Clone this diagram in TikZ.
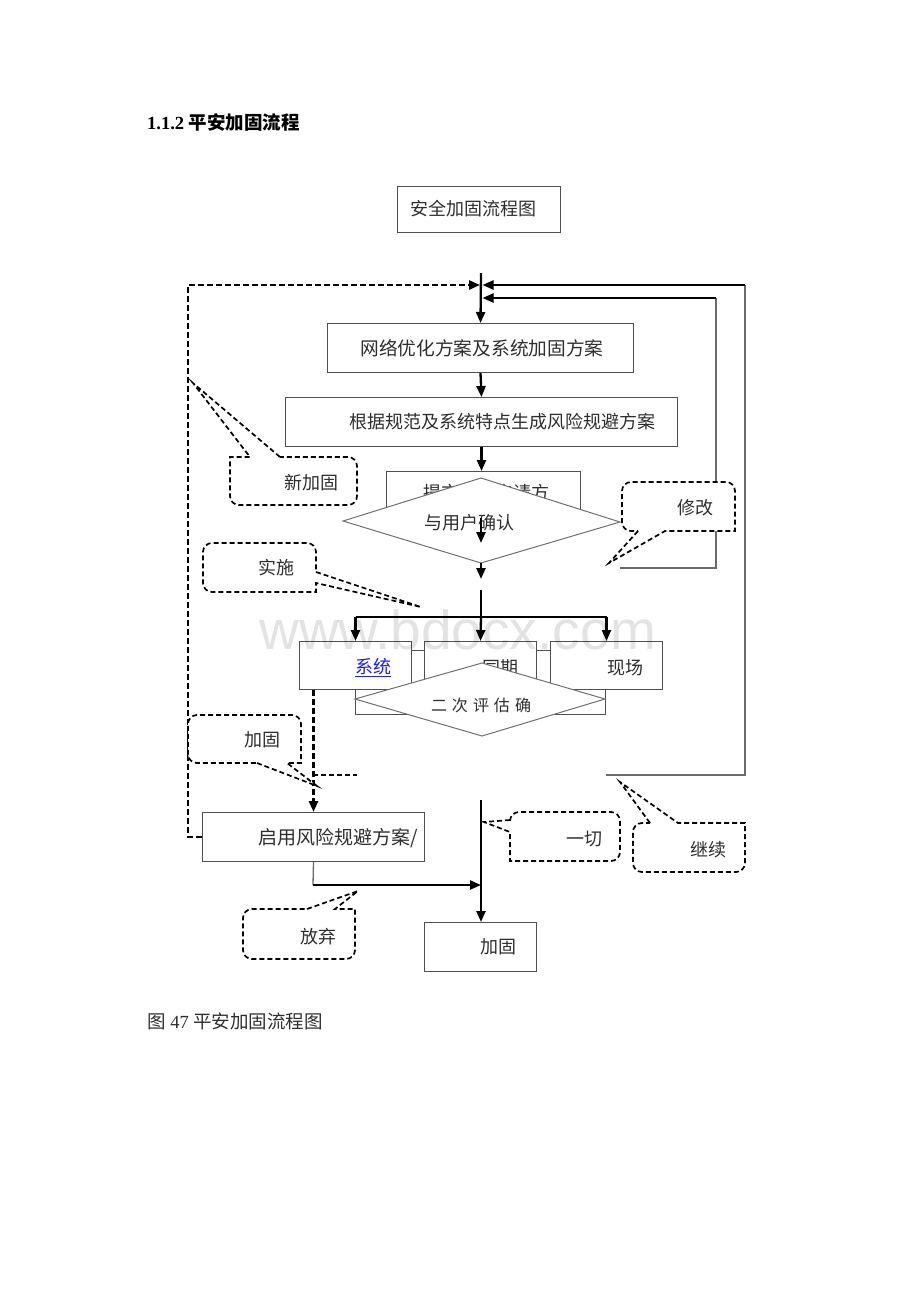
\documentclass[tikz,border=0pt]{standalone}
\usepackage{fontspec}
\setmainfont{Liberation Serif}
\newfontfamily\cjk{Noto Sans CJK SC}
\newfontfamily\wmfont{Liberation Sans}
\usetikzlibrary{arrows.meta}
\definecolor{boxc}{HTML}{505050}
\definecolor{dmc}{HTML}{707070}
\definecolor{loopc}{HTML}{6A6A6A}
\definecolor{txtc}{HTML}{2E2E2E}
\definecolor{linkc}{HTML}{1A1AFF}
\begin{document}
\begin{tikzpicture}[x=1pt,y=-1pt,
  bx/.style={draw=boxc, line width=1pt, fill=white, inner sep=0pt, anchor=north west},
  t/.style={font=\cjk\fontsize{18}{20}\selectfont, text=txtc, inner sep=0pt},
  arr/.style={draw=black, line width=2.3pt, -{Triangle[length=11pt,width=9pt]}},
  thk/.style={draw=black, line width=2.3pt},
  gl/.style={draw=loopc, line width=1.3pt},
  dm/.style={draw=dmc, line width=1pt, fill=white},
  cdash/.style={draw=black, fill=white, line width=1.7pt, dash pattern=on 5pt off 3pt},
  bigdash/.style={draw=black, line width=2.5pt, dash pattern=on 6pt off 3pt}]
\useasboundingbox (0,0) rectangle (920,1302);

% heading and caption
\node[anchor=west, inner sep=0pt, text=black] (head) at (147,122)
  {\fontsize{18.5}{20}\selectfont\bfseries 1.1.2 {\cjk\bfseries 平安加固流程}};
\node[anchor=west, inner sep=0pt, text=txtc] (cap) at (147,1021)
  {\fontsize{18.5}{20}\selectfont{\cjk 图} 47 {\cjk 平安加固流程图}};

% title
\node[bx, minimum width=163, minimum height=46] (title) at (397,186) {};
\node[t] (titlet) at (473,209) {安全加固流程图};

% background rectangle behind second diamond
\coordinate (bg1) at (355,650);
\coordinate (bg2) at (605,714);
\draw[draw=boxc, line width=1pt] (bg1) rectangle (bg2);

% main boxes
\node[bx, minimum width=306, minimum height=49] (b1) at (327,323) {};
\node[t, font=\cjk\fontsize{18.7}{21}\selectfont] (b1t) at (482,348) {网络优化方案及系统加固方案};
\node[bx, minimum width=392, minimum height=49] (b2) at (285,397) {};
\node[t] (b2t) at (502,422) {根据规范及系统特点生成风险规避方案};
\node[bx, minimum width=194, minimum height=50] (b3) at (386,471) {};
\node[t] (b3t) at (486,493) {提交用户申请方};

% arrows top
\coordinate (top) at (481,273);
\coordinate (j1l) at (480,285);
\coordinate (j1r) at (482.5,285);
\coordinate (j2r) at (482.5,298);
\draw[arr] (top) -- (b1.north);
\draw[arr] (b1.south) -- (b2.north);
\draw[arr] (b2.south) -- (b2.south |- b3.north);

% first diamond
\coordinate (d1t) at (481,478);
\coordinate (d1l) at (343,521);
\coordinate (d1r) at (620,522);
\coordinate (d1b) at (481,563);
\draw[dm] (d1t) -- (d1r) -- (d1b) -- (d1l) -- cycle;
\node[t] (d1text) at (469,523) {与用户确认};
\coordinate (m1) at (481,518);
\coordinate (m2) at (481,543);
\draw[arr] (m1) -- (m2);
\coordinate (m3) at (481,579);
\draw[arr] (d1b) -- (m3);

% branch
\coordinate (m4) at (481,590);
\coordinate (br) at (481,617);
\node[bx, minimum width=112, minimum height=48] (s1) at (299,641) {};
\node[bx, minimum width=112, minimum height=48] (s2) at (424,641) {};
\node[bx, minimum width=112, minimum height=48] (s3) at (550,641) {};
\node[t, text=linkc] (s1t) at (373,668) {\underline{系统}};
\node[t] (s2t) at (500,668) {同期};
\node[t] (s3t) at (625,668) {现场};
\draw[thk] (m4) -- (br);
\draw[thk] (s1.north |- br) -- (s3.north |- br);
\draw[arr] (s1.north |- br) -- (s1.north);
\draw[arr] (br) -- (s2.north);
\draw[arr] (s3.north |- br) -- (s3.north);

% second diamond
\coordinate (d2t) at (482,663);
\coordinate (d2l) at (355,699);
\coordinate (d2r) at (605,699);
\coordinate (d2b) at (482,736);
\draw[dm] (d2t) -- (d2r) -- (d2b) -- (d2l) -- cycle;
\node[t, font=\cjk\fontsize{16}{18}\selectfont] (d2text) at (481,705)
  {二\hspace{5pt}次\hspace{5pt}评\hspace{5pt}估\hspace{5pt}确};

% risk box and end box
\node[bx, minimum width=222, minimum height=49] (q) at (202,812) {};
\node[t, font=\cjk\fontsize{19}{21}\selectfont] (qt) at (338,838) {启用风险规避方案/};
\node[bx, minimum width=112, minimum height=49] (e) at (424,922) {};
\node[t] (et) at (498,947) {加固};

% dashed paths on the left
\draw[bigdash, -{Triangle[length=11pt,width=9pt]}] (q.north |- s1.south) -- (q.north);
\coordinate (st1) at (313,775);
\coordinate (st2) at (357,775);
\draw[cdash] (st1) -- (st2);
\draw[bigdash, -{Triangle[length=11pt,width=9pt]}] (q.west) -- ++(-14,0) |- (j1l);

% right loops
\coordinate (r1) at (606,775);
\coordinate (r2) at (745,775);
\coordinate (r3) at (745,285);
\draw[gl] (r1) -- (r2) -- (r3);
\draw[arr] (r3) -- (j1r);
\coordinate (i1) at (620,568);
\coordinate (i2) at (716,568);
\coordinate (i3) at (716,298);
\draw[gl] (i1) -- (i2) -- (i3);
\draw[arr] (i3) -- (j2r);

% bottom
\coordinate (k1) at (313,885);
\coordinate (k2) at (481,885);
\draw[gl] (q.south) -- (k1);
\draw[arr] (k1) -- (k2);
\coordinate (m5) at (481,800);
\draw[arr] (m5) -- (m5 |- e.north);

% callouts
\draw[cdash] (280,457) -- (193,383) -- (250,457) -- (230,457) [rounded corners=9pt] -- (230,505) -- (357,505) -- (357,457) -- (280,457);
\node[t] (c1) at (311,483) {新加固};

\draw[cdash] (638,531) -- (609,563) -- (665,531) -- (735,531) [rounded corners=9pt] -- (735,482) -- (622,482) -- (622,531) -- (638,531);
\node[t] (c2) at (695,508) {修改};

\draw[cdash] (316,572) -- (421,607) -- (316,583) -- (316,592) [rounded corners=9pt] -- (203,592) -- (203,543) -- (316,543) -- (316,572);
\node[t] (c3) at (276,568) {实施};

\draw[cdash] (257,763) -- (317,786) -- (287,763) -- (301,763) [rounded corners=9pt] -- (301,715) -- (188,715) -- (188,763) -- (257,763);
\node[t] (c4) at (262,740) {加固};

\draw[cdash] (510,820) -- (484,822) -- (510,832) -- (510,861) [rounded corners=9pt] -- (620,861) -- (620,812) -- (510,812) -- (510,820);
\node[t] (c5) at (584,839) {一切};

\draw[cdash] (650,823) -- (620,782) -- (678,823) -- (745,823) [rounded corners=9pt] -- (745,872) -- (633,872) -- (633,823) -- (650,823);
\node[t] (c6) at (708,850) {继续};

\draw[cdash] (307,909) -- (358,891) -- (335,909) -- (355,909) [rounded corners=9pt] -- (355,959) -- (243,959) -- (243,909) -- (307,909);
\node[t] (c7) at (318,937) {放弃};

% watermark
\node[anchor=base, inner sep=0pt, text=black, text opacity=0.11,
  font=\wmfont\fontsize{55}{58}\selectfont] (wm) at (458,649) {www.bdocx.com};
\end{tikzpicture}
\end{document}
